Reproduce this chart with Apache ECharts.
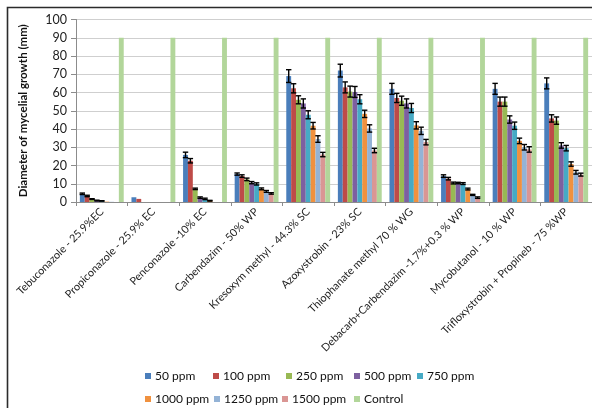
<!DOCTYPE html>
<html>
<head>
<meta charset="utf-8">
<script src="https://cdn.jsdelivr.net/npm/echarts@6/dist/echarts.min.js"></script>
<style>
  html, body { margin: 0; padding: 0; background: #fff; }
  #chart { width: 592px; height: 408px; }
</style>
</head>
<body>
<div id="chart"></div>
<script>
// Fungicide treatments on the category axis
const categories = [
  'Tebuconazole - 25.9%EC',
  'Propiconazole - 25.9% EC',
  'Penconazole -10% EC',
  'Carbendazim - 50% WP',
  'Kresoxym methyl - 44.3% SC',
  'Azoxystrobin - 23% SC',
  'Thiophanate methyl 70 % WG',
  'Debacarb+Carbendazim -1.7%+0.3 % WP',
  'Mycobutanol - 10 % WP',
  'Trifloxystrobin + Propineb - 75 %WP'
];

const seriesNames = ['50 ppm', '100 ppm', '250 ppm', '500 ppm', '750 ppm',
  '1000 ppm', '1250 ppm', '1500 ppm', 'Control'];

// Mean mycelial diameter (mm) per concentration
const ppm50   = [4.5, 2.6, 25.8, 15.3, 69.0, 72.0, 62.0, 14.2, 62.0, 65.0];
const ppm100  = [3.3, 1.7, 22.6, 14.2, 62.3, 62.8, 57.0, 12.8, 55.0, 45.8];
const ppm250  = [1.6, 0.0, 7.2, 12.4, 56.0, 60.5, 55.5, 10.4, 55.0, 44.6];
const ppm500  = [0.8, 0.0, 2.4, 10.6, 54.0, 60.3, 54.0, 10.4, 45.2, 31.0];
const ppm750  = [0.6, 0.0, 1.7, 9.9, 47.8, 56.3, 51.5, 10.1, 41.8, 29.5];
const ppm1000 = [0.2, 0.0, 0.7, 7.2, 41.8, 48.3, 42.0, 7.1, 33.5, 20.8];
const ppm1250 = [0.1, 0.0, 0.0, 5.8, 34.5, 40.3, 39.0, 3.9, 30.0, 16.3];
const ppm1500 = [0.0, 0.0, 0.0, 4.7, 26.0, 28.2, 32.8, 2.4, 28.8, 15.0];
const control = [90, 90, 90, 90, 90, 90, 90, 90, 90, 90];

// Error (± mm) per concentration
const err50   = [0.4, 0, 1.5, 0.6, 3.5, 3.5, 3.0, 0.7, 3.0, 3.0];
const err100  = [0.4, 0, 1.2, 0.7, 2.5, 3.0, 2.5, 0.7, 2.5, 2.0];
const err250  = [0.2, 0, 0.4, 0.7, 2.2, 3.0, 2.5, 0.5, 2.5, 2.0];
const err500  = [0.2, 0, 0.4, 0.6, 2.5, 3.0, 2.5, 0.4, 2.0, 1.5];
const err750  = [0.1, 0, 0.4, 0.6, 2.2, 2.5, 2.5, 0.5, 2.0, 1.5];
const err1000 = [0, 0, 0.2, 0.5, 1.8, 2.0, 2.0, 0.5, 1.5, 1.2];
const err1250 = [0, 0, 0, 0.5, 1.8, 2.0, 2.0, 0.3, 1.5, 1.0];
const err1500 = [0, 0, 0, 0.4, 1.2, 1.2, 1.5, 0.4, 1.5, 0.8];

const yTicks = [0, 10, 20, 30, 40, 50, 60, 70, 80, 90, 100];

const values = [ppm50, ppm100, ppm250, ppm500, ppm750, ppm1000, ppm1250, ppm1500, control];
const errors = [err50, err100, err250, err500, err750, err1000, err1250, err1500];
const colors = ['#4A7EBB', '#BE4B48', '#98B954', '#7D60A0', '#46AAC5',
  '#F0913F', '#94B3D6', '#DA9694', '#B2D69A'];

const CAT_GAP = 0.15;
const nBars = values.length;

const barSeries = values.map((arr, i) => ({
  name: seriesNames[i],
  type: 'bar',
  data: arr,
  barGap: '0%',
  barCategoryGap: (CAT_GAP * 100) + '%',
  itemStyle: { color: colors[i] },
  z: 2
}));

// Error bars: [categoryIndex, seriesIndex, mean, err]
const errData = [];
errors.forEach((arr, s) => {
  arr.forEach((e, c) => {
    if (e > 0) errData.push([c, s, values[s][c], e]);
  });
});

const errorSeries = {
  type: 'custom',
  name: 'error',
  data: errData,
  encode: { x: 0, y: 2 },
  z: 5,
  silent: true,
  renderItem: function (params, api) {
    const c = api.value(0), s = api.value(1), m = api.value(2), e = api.value(3);
    const band = api.size([1, 0])[0];
    const total = band * (1 - CAT_GAP);
    const bw = total / nBars;
    const base = api.coord([c, m]);
    const x = base[0] - total / 2 + (s + 0.5) * bw;
    const top = api.coord([c, m + e])[1];
    const bot = api.coord([c, m - e])[1];
    const hw = 2.7;
    const st = { stroke: '#000', lineWidth: 1.4 };
    return {
      type: 'group',
      children: [
        { type: 'line', shape: { x1: x, y1: top, x2: x, y2: bot }, style: st },
        { type: 'line', shape: { x1: x - hw, y1: top, x2: x + hw, y2: top }, style: st },
        { type: 'line', shape: { x1: x - hw, y1: bot, x2: x + hw, y2: bot }, style: st }
      ]
    };
  }
};

// Legend laid out in two rows, one legend component per item
const legendPos = [
  [140, 365], [208, 365], [281, 365], [349, 365], [412, 365],
  [140, 388], [209, 388], [277, 388], [349, 388]
];
const legends = seriesNames.map((n, i) => ({
  data: [n],
  left: legendPos[i][0],
  top: legendPos[i][1],
  icon: 'rect',
  itemWidth: 6,
  itemHeight: 6,
  itemGap: 0,
  selectedMode: false,
  textStyle: { fontFamily: 'Lato', fontSize: 12, color: '#111', padding: [0, 0, 0, -1] }
}));

const chart = echarts.init(document.getElementById('chart'), null, { renderer: 'canvas' });
chart.setOption({
  animation: false,
  backgroundColor: '#fff',
  textStyle: { fontFamily: 'Lato' },
  grid: { left: 76, right: -7, top: 19.5, bottom: 206 },
  legend: legends,
  graphic: [{
    type: 'rect',
    shape: { x: 7.5, y: 7.5, width: 1000, height: 1000 },
    style: { fill: 'none', stroke: '#2b2b2b', lineWidth: 1.6 },
    z: 10
  }],
  xAxis: {
    type: 'category',
    data: categories,
    axisLine: { lineStyle: { color: '#8c8c8c' } },
    axisTick: { show: true, length: 4, lineStyle: { color: '#8c8c8c' } },
    axisLabel: {
      interval: 0,
      rotate: 45,
      fontFamily: 'Lato',
      fontSize: 10.8,
      color: '#222',
      margin: 8
    }
  },
  yAxis: {
    type: 'value',
    min: yTicks[0],
    max: yTicks[yTicks.length - 1],
    interval: yTicks[1] - yTicks[0],
    name: 'Diameter of mycelial growth (mm)',
    nameLocation: 'middle',
    nameGap: 47,
    nameTextStyle: { fontFamily: 'Lato', fontSize: 11.5, fontWeight: 'bold', color: '#111' },
    axisLine: { show: true, lineStyle: { color: '#8c8c8c' } },
    axisTick: { show: true, length: 5, lineStyle: { color: '#8c8c8c' } },
    axisLabel: { fontFamily: 'Lato', fontSize: 12.5, color: '#222', margin: 9 },
    splitLine: { lineStyle: { color: '#cfcfcf' } }
  },
  series: barSeries.concat([errorSeries])
});
</script>
</body>
</html>
